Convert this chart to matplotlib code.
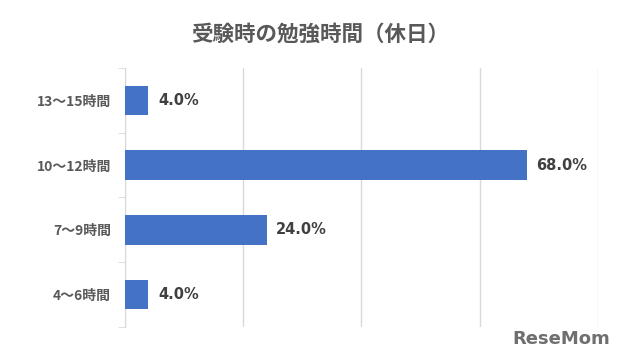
import matplotlib
matplotlib.use("Agg")
import matplotlib.pyplot as plt
import numpy as np

plt.rcParams['font.family'] = ['Noto Sans CJK JP', 'DejaVu Sans']

categories = ["13～15時間", "10～12時間", "7～9時間", "4～6時間"]
values = [4.0, 68.0, 24.0, 4.0]
title = "受験時の勉強時間（休日）"

fig = plt.figure(figsize=(6.4, 3.62), dpi=100)
ax = fig.add_axes([0.195, 0.097, 0.739, 0.715])

y = np.arange(len(categories))[::-1]
ax.barh(y, values, height=0.46, color="#4472C4", zorder=3)
for yi, v in zip(y, values):
    ax.text(v + 1.6, yi, f"{v:.1f}%", va="center", ha="left", fontsize=10.5,
            fontweight="bold", color="#404040", family=["DejaVu Sans"])

ax.set_xlim(0, 80)
ax.set_ylim(-0.5, 3.5)
ax.set_xticks([0, 20, 40, 60, 80])
ax.xaxis.grid(True, color="#d9d9d9", linewidth=1, zorder=0)
ax.tick_params(axis="x", length=0, labelbottom=False)
ax.set_yticks(y)
ax.set_yticklabels(categories, fontsize=10, fontweight="bold", color="#595959")
ax.tick_params(axis="y", length=0, pad=10)
ax.set_yticks([-0.5, 0.5, 1.5, 2.5, 3.5], minor=True)
ax.tick_params(axis="y", which="minor", length=5, color="#d9d9d9", direction="out")
for s in ["top", "right", "bottom"]:
    ax.spines[s].set_visible(False)
ax.spines["left"].set_color("#d9d9d9")

fig.text(0.5, 0.905, title, ha="center", va="center", fontsize=15.5,
         fontweight="bold", color="#595959")
fig.text(0.953, 0.04, "ReseMom", ha="right", va="bottom", fontsize=13,
         fontweight="bold", color="#6f6f6f", family=["DejaVu Sans"])

fig.savefig("out.png", dpi=100)
